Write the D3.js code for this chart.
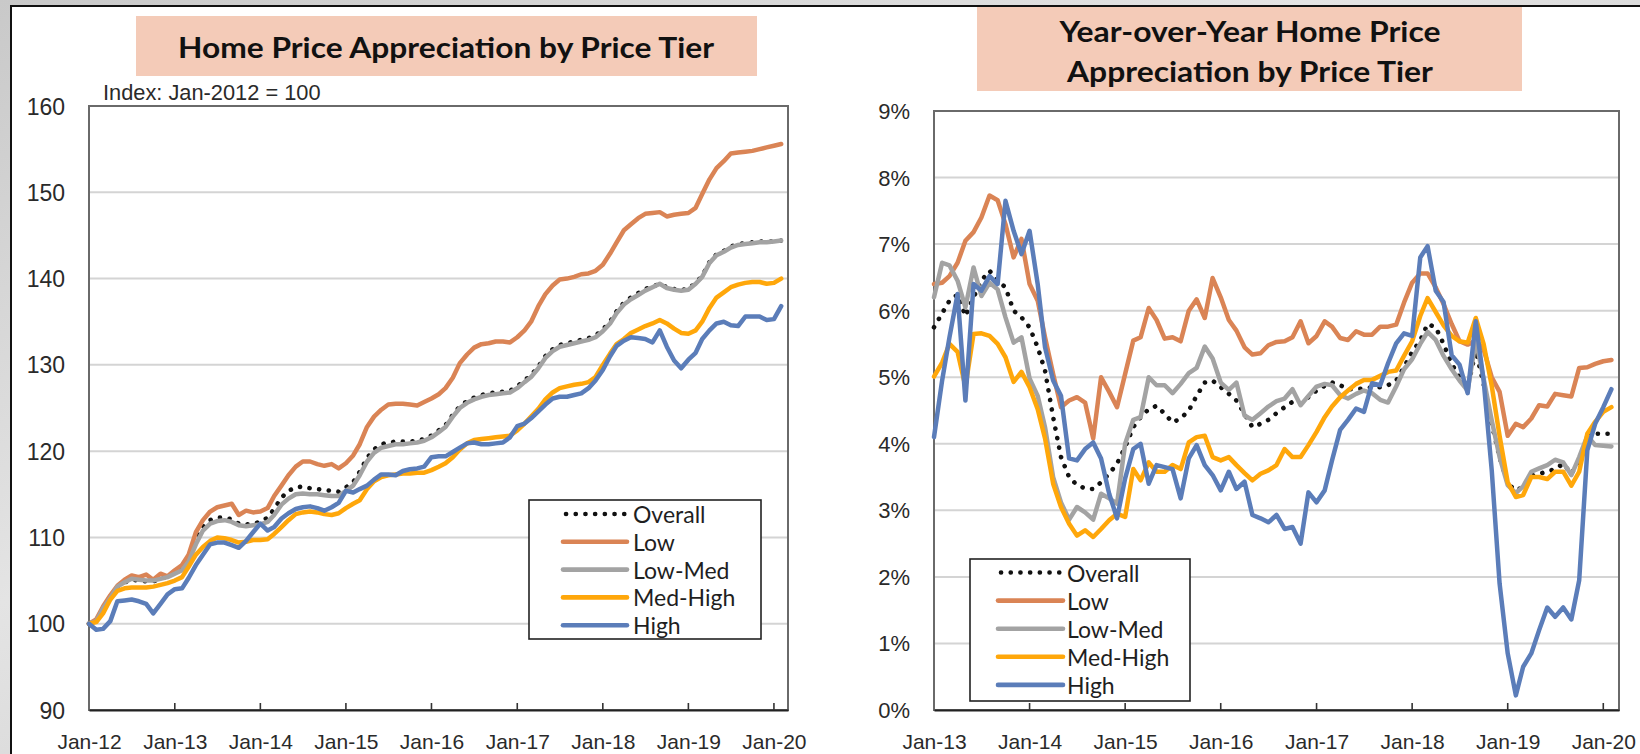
<!DOCTYPE html>
<html>
<head>
<meta charset="utf-8">
<script src="https://cdn.jsdelivr.net/npm/d3@7"></script>
<style>
  html, body { margin: 0; padding: 0; background: #fff; }
  svg { display: block; }
</style>
</head>
<body>
<svg id="chart" width="1640" height="754"></svg>
<script>
// ---------------------------------------------------------------
// Home price index by tier, monthly Jan-2012 .. Feb-2020 (Jan-2012 = 100)
// ---------------------------------------------------------------
const idxOverall = [100.0,100.3,101.8,103.0,104.3,104.8,105.1,105.0,104.9,104.9,105.2,105.5,
  105.9,106.4,107.5,109.6,111.2,112.0,112.3,112.3,112.1,111.6,111.5,111.6,
  111.8,112.3,113.3,114.6,115.4,115.8,115.9,115.7,115.6,115.5,115.4,115.3,
  115.8,116.4,117.6,119.2,120.2,120.8,121.0,121.1,121.1,121.1,121.2,121.4,
  121.8,122.4,123.0,124.2,125.2,125.8,126.2,126.5,126.7,126.8,126.9,127.0,
  127.5,128.2,128.8,129.8,131.0,131.8,132.3,132.5,132.7,132.9,133.1,133.4,
  134.1,135.0,136.2,137.2,137.8,138.3,138.8,139.1,139.4,139.0,138.8,138.7,
  138.8,139.5,140.3,141.9,142.8,143.2,143.7,144.0,144.1,144.2,144.3,144.3,
  144.3,144.4];
const idxLow = [100.0,100.5,102.0,103.3,104.4,105.1,105.6,105.4,105.7,105.1,105.8,105.5,
  106.2,106.8,108.0,110.6,112.0,113.0,113.5,113.7,113.9,112.6,113.1,112.9,
  113.0,113.4,114.8,116.0,117.2,118.2,118.8,118.8,118.5,118.3,118.5,118.0,
  118.6,119.5,120.8,122.8,124.0,124.8,125.4,125.5,125.5,125.4,125.3,125.7,
  126.1,126.6,127.3,128.5,130.2,131.2,132.0,132.4,132.5,132.7,132.7,132.6,
  133.2,134.0,135.0,136.8,138.2,139.2,139.9,140.0,140.2,140.5,140.6,140.9,
  141.6,142.9,144.2,145.6,146.3,147.0,147.5,147.6,147.7,147.2,147.4,147.5,
  147.6,148.2,149.8,151.5,152.8,153.6,154.5,154.6,154.7,154.8,155.0,155.2,
  155.4,155.6];
const idxLowMed = [100.0,100.3,101.8,103.0,104.3,104.8,105.2,105.1,105.0,105.0,105.2,105.4,
  105.8,106.2,107.2,109.2,110.8,111.6,111.9,112.0,111.8,111.4,111.3,111.4,
  111.5,111.8,112.6,113.8,114.5,115.0,115.1,115.0,115.0,114.9,114.8,114.8,
  115.4,116.0,117.2,118.8,119.8,120.4,120.6,120.8,120.8,120.9,121.0,121.2,
  121.6,122.2,122.8,124.0,125.0,125.6,126.0,126.3,126.5,126.6,126.7,126.8,
  127.3,128.0,128.6,129.6,130.8,131.6,132.1,132.3,132.5,132.7,132.9,133.2,
  133.9,134.8,136.0,137.0,137.6,138.1,138.6,139.0,139.4,138.9,138.7,138.6,
  138.7,139.4,140.2,141.8,142.7,143.1,143.6,143.9,144.0,144.1,144.2,144.2,
  144.3,144.4];
const idxMedHigh = [100.0,100.2,101.2,102.8,103.8,104.1,104.2,104.2,104.2,104.3,104.5,104.7,
  105.0,105.4,106.6,108.0,108.9,109.6,110.0,109.9,109.7,109.4,109.5,109.7,
  109.7,109.8,110.4,111.2,112.0,112.7,112.9,113.0,112.9,112.7,112.6,112.8,
  113.4,113.9,114.3,115.6,116.5,117.0,117.2,117.3,117.4,117.4,117.5,117.5,
  117.8,118.2,118.6,119.3,120.2,120.9,121.3,121.4,121.5,121.6,121.7,121.8,
  122.4,123.2,124.0,124.9,126.0,126.8,127.3,127.5,127.7,127.8,128.0,128.6,
  130.0,131.3,132.4,133.0,133.7,134.1,134.5,134.8,135.2,134.8,134.2,133.7,
  133.6,134.0,135.0,136.6,137.8,138.4,139.0,139.3,139.5,139.6,139.6,139.4,
  139.5,140.0];
const idxHigh = [100.0,99.3,99.4,100.3,102.6,102.7,102.8,102.6,102.3,101.2,102.3,103.4,
  104.0,104.1,105.3,106.8,108.0,109.2,109.4,109.4,109.1,108.8,109.6,110.6,
  111.6,110.8,111.2,112.2,112.8,113.3,113.5,113.6,113.4,113.1,113.5,114.0,
  115.4,115.2,115.6,116.0,116.7,117.3,117.3,117.2,117.7,117.9,118.0,118.2,
  119.3,119.4,119.4,119.9,120.4,120.9,121.0,120.8,120.8,120.9,121.0,121.6,
  122.9,123.2,123.8,124.6,125.4,126.1,126.3,126.3,126.5,126.7,127.3,128.2,
  129.4,131.0,132.2,132.8,133.2,133.1,133.0,132.6,134.0,132.1,130.5,129.6,
  130.6,131.4,133.0,134.0,134.8,135.0,134.6,134.5,135.6,135.6,135.6,135.2,
  135.3,136.8];

// ---------------------------------------------------------------
// Year-over-year change by tier (%), monthly Jan-2013 .. Feb-2020
// ---------------------------------------------------------------
const yoyOverall = [5.75,5.96,6.15,6.24,5.92,6.20,6.45,6.60,6.45,6.35,6.00,5.90,
  5.75,5.45,5.10,4.40,3.80,3.50,3.38,3.33,3.32,3.42,3.55,3.70,
  3.95,4.25,4.40,4.52,4.57,4.45,4.32,4.38,4.50,4.72,4.92,4.95,
  4.85,4.75,4.65,4.45,4.25,4.30,4.36,4.46,4.55,4.63,4.60,4.70,
  4.80,4.87,4.92,4.88,4.82,4.82,4.83,4.85,4.85,4.88,4.95,5.15,
  5.38,5.55,5.80,5.75,5.50,5.20,5.00,4.85,5.40,4.90,4.30,3.80,
  3.40,3.30,3.35,3.52,3.55,3.58,3.62,3.70,3.55,3.75,4.10,4.15,
  4.15,4.15];
const yoyLow = [6.40,6.42,6.52,6.72,7.05,7.18,7.40,7.73,7.66,7.30,6.80,7.08,
  6.40,6.15,5.60,5.05,4.55,4.65,4.70,4.62,4.08,5.00,4.78,4.55,
  5.05,5.55,5.60,6.04,5.86,5.58,5.60,5.54,6.00,6.17,5.89,6.49,
  6.20,5.86,5.70,5.45,5.34,5.36,5.48,5.53,5.54,5.60,5.84,5.51,
  5.62,5.84,5.76,5.59,5.56,5.69,5.64,5.64,5.76,5.76,5.79,6.12,
  6.42,6.56,6.56,6.35,6.10,5.80,5.54,5.49,5.55,5.42,5.00,4.78,
  4.12,4.30,4.25,4.38,4.58,4.56,4.75,4.73,4.71,5.14,5.15,5.20,
  5.24,5.26];
const yoyLowMed = [6.20,6.72,6.68,6.45,6.05,6.65,6.22,6.42,6.32,5.90,5.52,5.60,
  4.98,4.72,4.25,3.50,3.12,2.86,3.05,2.97,2.86,3.25,3.18,3.10,
  4.00,4.36,4.40,5.00,4.88,4.88,4.76,4.90,5.06,5.14,5.46,5.28,
  4.92,4.81,4.92,4.42,4.36,4.46,4.56,4.64,4.68,4.82,4.58,4.72,
  4.86,4.90,4.88,4.73,4.68,4.75,4.80,4.76,4.66,4.62,4.86,5.12,
  5.27,5.50,5.68,5.56,5.32,5.12,4.95,4.80,5.55,4.98,4.35,3.80,
  3.38,3.26,3.36,3.58,3.63,3.68,3.76,3.72,3.53,3.80,4.12,3.98,
  3.97,3.96];
const yoyMedHigh = [5.01,5.22,5.50,5.38,4.86,5.65,5.66,5.62,5.50,5.30,4.93,5.08,
  4.85,4.52,4.08,3.40,3.05,2.80,2.62,2.70,2.60,2.72,2.85,2.95,
  2.90,3.62,3.45,3.72,3.58,3.58,3.68,3.62,4.02,4.10,4.12,3.80,
  3.75,3.80,3.68,3.56,3.45,3.55,3.60,3.68,3.92,3.80,3.80,3.98,
  4.18,4.40,4.56,4.70,4.80,4.90,4.96,4.96,5.02,5.08,5.10,5.32,
  5.54,5.92,6.19,5.98,5.78,5.62,5.54,5.52,5.89,5.50,4.87,4.12,
  3.42,3.20,3.23,3.50,3.50,3.47,3.58,3.58,3.37,3.58,4.15,4.33,
  4.48,4.55];
const yoyHigh = [4.10,4.95,5.60,6.25,4.65,6.40,6.30,6.52,6.40,7.65,7.20,6.85,
  7.20,6.40,5.45,4.95,4.72,3.78,3.75,3.92,4.02,3.78,3.25,2.88,
  3.48,3.92,4.00,3.40,3.68,3.65,3.62,3.18,3.78,3.98,3.68,3.53,
  3.30,3.58,3.32,3.43,2.93,2.88,2.82,2.93,2.72,2.75,2.50,3.27,
  3.12,3.30,3.75,4.21,4.36,4.53,4.48,4.91,4.88,5.21,5.51,5.66,
  5.62,6.80,6.97,6.30,6.13,5.33,5.19,4.76,5.84,4.95,3.60,1.90,
  0.85,0.22,0.65,0.85,1.20,1.54,1.40,1.54,1.36,1.95,3.90,4.30,
  4.55,4.82];

// Axis tick labels
const idxXLabels = ["Jan-12","Jan-13","Jan-14","Jan-15","Jan-16","Jan-17","Jan-18","Jan-19","Jan-20"];
const yoyXLabels = ["Jan-13","Jan-14","Jan-15","Jan-16","Jan-17","Jan-18","Jan-19","Jan-20"];
const idxYTicks = [90,100,110,120,130,140,150,160];
const yoyYTicks = [0,1,2,3,4,5,6,7,8,9];
const legendNames = ["Overall","Low","Low-Med","Med-High","High"];

// ---------------------------------------------------------------
const COLORS = {
  "Overall": "#111111",
  "Low": "#DA8455",
  "Low-Med": "#A3A3A3",
  "Med-High": "#FFA70A",
  "High": "#5B7DB9"
};
const CALIBRI = "Lato, 'Open Sans', sans-serif";
const ARIAL = "'Liberation Sans', Arial, sans-serif";

const svg = d3.select("#chart");

// backdrop and white sheet
const defs = svg.append("defs");
const bg = defs.append("linearGradient").attr("id","bgGrad").attr("x1","0").attr("y1","0").attr("x2","1").attr("y2","1");
bg.append("stop").attr("offset","0%").attr("stop-color","#c9c9c9");
bg.append("stop").attr("offset","40%").attr("stop-color","#e4e4e4");
bg.append("stop").attr("offset","70%").attr("stop-color","#cfcfcf");
bg.append("stop").attr("offset","100%").attr("stop-color","#dedede");
svg.append("rect").attr("width",1640).attr("height",754).attr("fill","url(#bgGrad)");
svg.append("rect").attr("x",11).attr("y",6).attr("width",1660).attr("height",780)
  .attr("fill","#ffffff").attr("stroke","#111").attr("stroke-width",2);

function seriesOf(values, startYear) {
  return values.map((v, i) => ({ date: new Date(startYear, i, 1), v }));
}

function drawPanel(p) {
  const g = svg.append("g");
  const x = d3.scaleTime().domain(p.xDomain).range([p.left, p.right]);
  const y = d3.scaleLinear().domain(p.yDomain).range([p.bottom, p.top]);

  // title box
  g.append("rect").attr("x", p.titleBox[0]).attr("y", p.titleBox[1])
    .attr("width", p.titleBox[2]).attr("height", p.titleBox[3]).attr("fill", "#F4CBB8");
  p.titleLines.forEach(t => {
    g.append("text").attr("x", t.cx).attr("y", t.y)
      .attr("text-anchor","middle")
      .attr("font-family", CALIBRI).attr("font-weight", 700).attr("font-size", 28)
      .attr("fill", "#111")
      .attr("textLength", t.w).attr("lengthAdjust","spacingAndGlyphs")
      .text(t.text);
  });

  // horizontal gridlines
  g.append("g").selectAll("line")
    .data(p.yTicks.filter(v => v > p.yDomain[0] && v < p.yDomain[1]))
    .join("line")
    .attr("x1", p.left).attr("x2", p.right)
    .attr("y1", d => y(d)).attr("y2", d => y(d))
    .attr("stroke", "#d4d4d4").attr("stroke-width", 2);

  // plot frame
  g.append("rect").attr("x", p.left).attr("y", p.top)
    .attr("width", p.right - p.left).attr("height", p.bottom - p.top)
    .attr("fill","none").attr("stroke","#6a6a6a").attr("stroke-width",2);

  // x axis: line, inside ticks, labels
  const tickDates = p.xLabels.map((lab, i) => new Date(p.firstYear + i, 0, 1));
  const xAxis = d3.axisBottom(x).tickValues(tickDates).tickSize(0).tickFormat((d, i) => p.xLabels[i]);
  const ax = g.append("g").attr("transform", `translate(0,${p.bottom})`).call(xAxis);
  ax.select(".domain").attr("stroke","#222").attr("stroke-width",2.2);
  ax.selectAll("text").attr("font-family", ARIAL).attr("font-size", 21)
    .attr("fill","#2a2a2a").attr("dy", null).attr("y", 31).attr("dominant-baseline","central");
  g.append("g").selectAll("line").data(tickDates.slice(1)).join("line")
    .attr("x1", d => x(d)).attr("x2", d => x(d))
    .attr("y1", p.bottom).attr("y2", p.bottom - 7)
    .attr("stroke","#333").attr("stroke-width",1.6);

  // y axis labels
  const yAxis = d3.axisLeft(y).tickValues(p.yTicks).tickSize(0).tickFormat(p.yFormat);
  const ay = g.append("g").attr("transform", `translate(${p.left},0)`).call(yAxis);
  ay.select(".domain").remove();
  ay.selectAll("text").attr("font-family", p.yFont).attr("font-size", p.yFontSize)
    .attr("fill","#2a2a2a").attr("x", -p.yLabelGap).attr("dy", null)
    .attr("dominant-baseline","central");

  // series lines (overall first, tiers drawn over it)
  const line = d3.line().x(d => x(d.date)).y(d => y(d.v));
  const order = ["Overall","Low","Low-Med","Med-High","High"];
  order.forEach(name => {
    const path = g.append("path").datum(seriesOf(p.series[name], p.firstYear))
      .attr("d", line).attr("fill","none")
      .attr("stroke", COLORS[name])
      .attr("stroke-linejoin","round")
      .attr("stroke-linecap","round");
    if (name === "Overall") {
      path.attr("stroke-width", 4.6).attr("stroke-dasharray","0.1 9.6");
    } else {
      path.attr("stroke-width", 4.5);
    }
  });

  // legend
  const L = p.legend;
  const lg = g.append("g");
  lg.append("rect").attr("x", L.x).attr("y", L.y).attr("width", L.w).attr("height", L.h)
    .attr("fill","#fff").attr("stroke","#222").attr("stroke-width",1.6);
  legendNames.forEach((name, i) => {
    const cy = L.firstY + i * L.step;
    const s = lg.append("line").attr("x1", L.lineX0).attr("x2", L.lineX1)
      .attr("y1", cy).attr("y2", cy).attr("stroke", COLORS[name]).attr("stroke-linecap","round");
    if (name === "Overall") s.attr("stroke-width", 4.6).attr("stroke-dasharray","0.1 9.6").attr("x1", L.lineX0 + 3);
    else s.attr("stroke-width", 4.6);
    lg.append("text").attr("x", L.textX).attr("y", cy).attr("dominant-baseline","central")
      .attr("font-family", CALIBRI).attr("font-size", 23).attr("fill","#1f1f1f").text(name);
  });

  return { x, y, g };
}

// Left panel: index levels
const left = drawPanel({
  left: 89, right: 788, top: 106, bottom: 710,
  xDomain: [new Date(2012, 0, 1), new Date(2020, 2, 1)],
  yDomain: [90, 160],
  firstYear: 2012,
  xLabels: idxXLabels,
  yTicks: idxYTicks,
  yFormat: d => d,
  yFont: ARIAL, yFontSize: 23, yLabelGap: 24,
  titleBox: [136, 16, 621, 60],
  titleLines: [{ text: "Home Price Appreciation by Price Tier", cx: 446, y: 58, w: 536 }],
  series: { "Overall": idxOverall, "Low": idxLow, "Low-Med": idxLowMed, "Med-High": idxMedHigh, "High": idxHigh },
  legend: { x: 529, y: 500, w: 232, h: 139, firstY: 514, step: 27.8, lineX0: 563, lineX1: 627, textX: 633 }
});
left.g.append("text").attr("x", 103).attr("y", 100)
  .attr("font-family", ARIAL).attr("font-size", 21.8).attr("fill","#2a2a2a")
  .text("Index: Jan-2012 = 100");

// Right panel: year-over-year change
drawPanel({
  left: 934, right: 1619, top: 111, bottom: 710,
  xDomain: [new Date(2013, 0, 1), new Date(2020, 2, 1)],
  yDomain: [0, 9],
  firstYear: 2013,
  xLabels: yoyXLabels,
  yTicks: yoyYTicks,
  yFormat: d => d + "%",
  yFont: ARIAL, yFontSize: 22, yLabelGap: 24,
  titleBox: [977, 7, 545, 84],
  titleLines: [
    { text: "Year-over-Year Home Price", cx: 1250, y: 42, w: 381 },
    { text: "Appreciation by Price Tier", cx: 1250, y: 82, w: 366 }
  ],
  series: { "Overall": yoyOverall, "Low": yoyLow, "Low-Med": yoyLowMed, "Med-High": yoyMedHigh, "High": yoyHigh },
  legend: { x: 970, y: 559, w: 220, h: 142, firstY: 572.5, step: 28.1, lineX0: 998, lineX1: 1063, textX: 1067 }
});
</script>
</body>
</html>
